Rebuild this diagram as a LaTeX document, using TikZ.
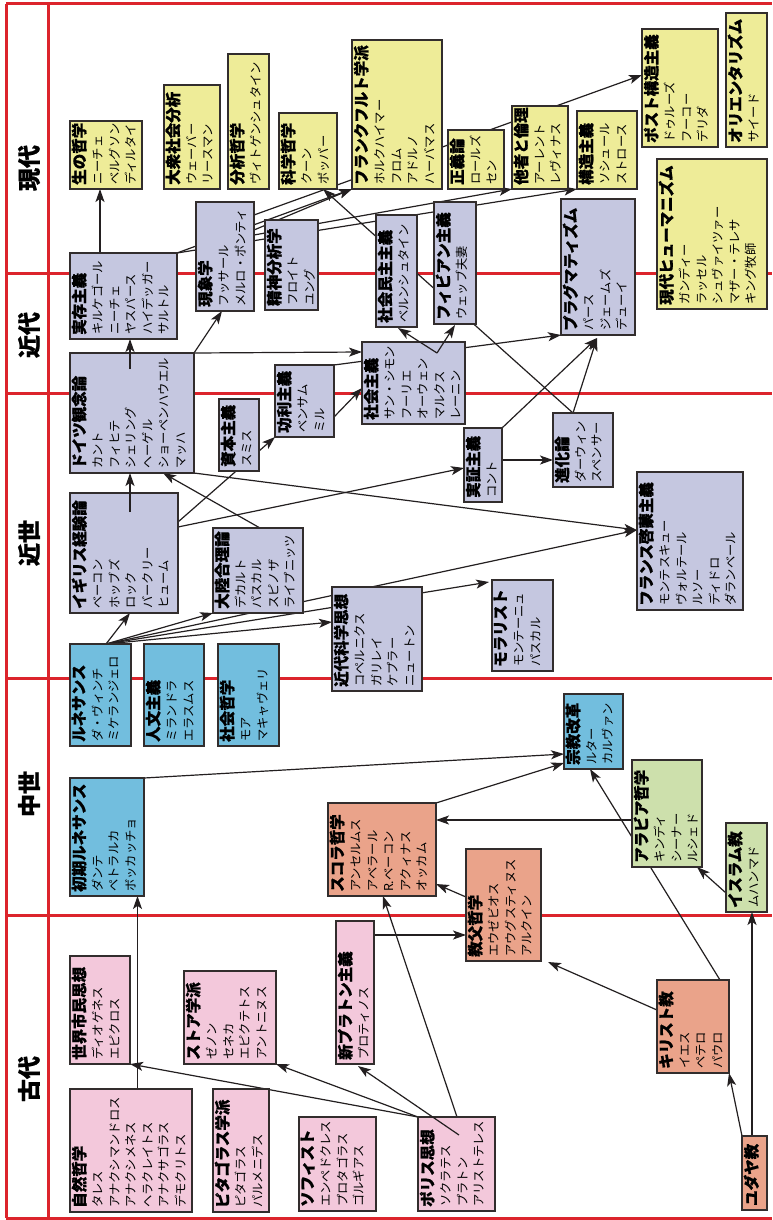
\documentclass[tikz,border=0pt]{standalone}
\usepackage{fontspec}
\setmainfont{Noto Sans CJK JP}[BoldFeatures={FakeBold=0.9}]
\usetikzlibrary{arrows.meta,fit}
\pgfdeclarelayer{bg}
\pgfsetlayers{bg,main}

\definecolor{frame}{RGB}{220,36,44}
\definecolor{ink}{RGB}{35,31,32}
\definecolor{edge}{RGB}{50,45,45}
\definecolor{cyel}{RGB}{238,236,152}
\definecolor{clav}{RGB}{197,199,224}
\definecolor{cblu}{RGB}{114,190,222}
\definecolor{csal}{RGB}{234,163,138}
\definecolor{cgrn}{RGB}{205,224,172}
\definecolor{cpnk}{RGB}{243,200,219}

\tikzset{
  box/.style={draw=edge, line width=1.4pt, inner sep=0pt, outer sep=0pt},
  btext/.style={rotate=90, anchor=north west, align=left, inner sep=0pt,
    font=\fontsize{12.3}{16.5}\selectfont},
  arr/.style={draw=ink, line width=1.2pt, -{Stealth[length=13pt,width=9pt,inset=3.2pt]}},
  redline/.style={draw=frame, line width=3pt},
  era/.style={rotate=90, font=\bfseries\fontsize{23}{23}\selectfont},
}

% box with a bold school name and its thinkers, text running bottom to top
\newcommand{\ideabox}[8]{%
  \node[box, fill=#6, fit={(#2,#3) (#4,#5)}] (#1) {};
  \node[btext] (#1-t) at ([xshift=1.5pt,yshift=4pt]#1.south west)
    {{\bfseries\fontsize{15.5}{16.5}\selectfont #7}\if\relax\detokenize{#8}\relax\else\\[1pt]#8\fi};
}

\begin{document}
\begin{tikzpicture}[x=1pt,y=-1pt]
\useasboundingbox (0,0) rectangle (772,1220);

% ---- contemporary
\ideabox{seino}{70}{121}{142}{189}{cyel}{生の哲学}{ニーチェ\\ベルグソン\\ディルタイ}
\ideabox{taishu}{164}{85}{220}{189}{cyel}{大衆社会分析}{ウェーバー\\リースマン}
\ideabox{bunseki}{228}{54}{269}{189}{cyel}{分析哲学}{ヴィトゲンシュタイン}
\ideabox{kagaku}{279}{113}{337}{189}{cyel}{科学哲学}{クーン\\ポッパー}
\ideabox{frank}{352}{40}{442}{189}{cyel}{フランクフルト学派}{ホルクハイマー\\フロム\\アドルノ\\ハーバマス}
\ideabox{seigi}{448}{130}{504}{189}{cyel}{正義論}{ロールズ\\セン}
\ideabox{tasha}{512}{106}{568}{189}{cyel}{他者と倫理}{アーレント\\レヴィナス}
\ideabox{kozo}{577}{111}{637}{189}{cyel}{構造主義}{ソシュール\\ストロース}
\ideabox{postk}{642}{29}{718}{147}{cyel}{ポスト構造主義}{ドゥルーズ\\フーコー\\デリダ}
\ideabox{orient}{726}{13}{767}{147}{cyel}{オリエンタリズム}{サイード}
\ideabox{human}{657}{159}{767}{309}{cyel}{現代ヒューマニズム}{ガンディー\\ラッセル\\シュヴァイツァー\\マザー・テレサ\\キング牧師}

% ---- modern
\ideabox{pragma}{561}{199}{635}{335}{clav}{プラグマティズム}{パース\\ジェームズ\\デューイ}
\ideabox{fabian}{434}{202}{476}{324}{clav}{フィビアン主義}{ウェッブ夫妻}
\ideabox{shamin}{376}{215}{417}{327}{clav}{社会民主主義}{ベルンシュタイン}
\ideabox{seishin}{265}{220}{318}{310}{clav}{精神分析学}{フロイト\\ユング}
\ideabox{genshou}{196}{202}{254}{311}{clav}{現象学}{フッサール\\メルロ・ポンティ}
\ideabox{jitsuzon}{70}{253}{177}{339}{clav}{実存主義}{キルケゴール\\ニーチェ\\ヤスパース\\ハイデッガー\\サルトル}
\ideabox{german}{70}{353}{194}{473}{clav}{ドイツ観念論}{カント\\フィヒテ\\シェリング\\ヘーゲル\\ショーペンハウエル\\マッハ}
\ideabox{shihon}{219}{399}{259}{471}{clav}{資本主義}{スミス}
\ideabox{kouri}{275}{365}{334}{437}{clav}{功利主義}{ベンサム\\ミル}
\ideabox{shakai}{362}{342}{465}{424}{clav}{社会主義}{サン・シモン\\フーリエ\\オーウェン\\マルクス\\レーニン}
\ideabox{jissho}{464}{428}{502}{502}{clav}{実証主義}{コント}
\ideabox{shinka}{553}{413}{613}{487}{clav}{進化論}{ダーウィン\\スペンサー}
\ideabox{french}{637}{472}{743}{610}{clav}{フランス啓蒙主義}{モンテスキュー\\ヴォルテール\\ルソー\\ディドロ\\ダランベール}
\ideabox{british}{70}{493}{178}{613}{clav}{イギリス経験論}{ベーコン\\ホッブズ\\ロック\\バークリー\\ヒューム}
\ideabox{tairiku}{213}{528}{303}{613}{clav}{大陸合理論}{デカルト\\パスカル\\スピノザ\\ライプニッツ}
\ideabox{kindai}{332}{587}{422}{691}{clav}{近代科学思想}{コペルニクス\\ガリレイ\\ケプラー\\ニュートン}
\ideabox{moral}{492}{580}{553}{671}{clav}{モラリスト}{モンテーニュ\\パスカル}

% ---- renaissance and medieval
\ideabox{renai}{70}{644}{131}{746}{cblu}{ルネサンス}{ダ・ヴィンチ\\ミケランジェロ}
\ideabox{jinbun}{144}{644}{204}{746}{cblu}{人文主義}{ミランドラ\\エラスムス}
\ideabox{shatetsu}{218}{644}{279}{746}{cblu}{社会哲学}{モア\\マキャヴェリ}
\ideabox{shoki}{70}{778}{144}{896}{cblu}{初期ルネサンス}{ダンテ\\ペトラルカ\\ボッカッチョ}
\ideabox{shukyo}{564}{694}{623}{769}{cblu}{宗教改革}{ルター\\カルヴァン}
\ideabox{scola}{328}{803}{436}{896}{csal}{スコラ哲学}{アンセルムス\\アベラール\\R.ベーコン\\アクィナス\\オッカム}
\ideabox{kyofu}{466}{849}{541}{961}{csal}{教父哲学}{エウゼビオス\\アウグスティヌス\\アルクイン}
\ideabox{arabia}{632}{760}{702}{867}{cgrn}{アラビア哲学}{キンディ\\シーナー\\ルシェド}
\ideabox{islam}{726}{823}{767}{912}{cgrn}{イスラム教}{ムハンマド}

% ---- ancient
\ideabox{sekai}{70}{956}{130}{1064}{cpnk}{世界市民思想}{ディオゲネス\\エピクロス}
\ideabox{stoa}{184}{971}{276}{1064}{cpnk}{ストア学派}{ゼノン\\セネカ\\エピクテトス\\アントニヌス}
\ideabox{shinpl}{336}{921}{374}{1064}{cpnk}{新プラトン主義}{プロティノス}
\ideabox{shizen}{70}{1089}{192}{1212}{cpnk}{自然哲学}{タレス\\アナクシマンドロス\\アナクシメネス\\ヘラクレイトス\\アナクサゴラス\\デモクリトス}
\ideabox{pythag}{213}{1089}{269}{1212}{cpnk}{ピタゴラス学派}{ピタゴラス\\パルメニデス}
\ideabox{sophist}{299}{1117}{376}{1211}{cpnk}{ソフィスト}{エンペドクレス\\プロタゴラス\\ゴルギアス}
\ideabox{polis}{418}{1117}{495}{1211}{cpnk}{ポリス思想}{ソクラテス\\プラトン\\アリストテレス}
\ideabox{christ}{657}{980}{729}{1073}{csal}{キリスト教}{イエス\\ペテロ\\パウロ}
\ideabox{judaism}{742}{1136}{767}{1210}{csal}{ユダヤ教}{}

% ---- era labels
\node[era] (e1) at (29,168) {現代};
\node[era] (e2) at (29,335) {近代};
\node[era] (e3) at (29,543) {近世};
\node[era] (e4) at (29,794) {中世};
\node[era] (e5) at (29,1079) {古代};

\begin{pgfonlayer}{bg}
\fill[white] (0,0) rectangle (772,1220);
% period grid
\draw[redline] (6,4) -- (772,4);
\draw[redline] (6,1218) -- (772,1218);
\draw[redline] (6,4) -- (6,1218);
\draw[redline] (48,4) -- (48,1218);
\draw[redline] (6,273) -- (772,273);
\draw[redline] (6,393) -- (772,393);
\draw[redline] (6,678) -- (772,678);
\draw[redline] (6,915) -- (772,915);

% ancient and medieval links
\draw[arr] ([xshift=67.5pt]shizen.north west) -- ([xshift=67.5pt]shoki.south west);
\draw[arr] (polis.north west) -- (sekai.south east);
\draw[arr] (polis.north west) -- (stoa.south east);
\draw[arr] ([xshift=39pt]polis.north west) -- ([xshift=55pt]scola.south west);
\coordinate (np) at ([yshift=-14pt]shinpl.north east);
\draw[arr] (np) -- (np -| kyofu.west);
\draw[arr] ([yshift=-30pt]christ.north west) -- ([xshift=7pt,yshift=-1pt]kyofu.south east);
\draw[arr] ([xshift=63pt]christ.north west) -- ([xshift=26pt]shukyo.south west);
\draw[arr] (judaism.north west) -- (christ.south east);
\draw[arr] ([xshift=10pt]judaism.north west) -- ([xshift=26pt]islam.south west);
\draw[arr] ([yshift=-70pt]islam.north west) -- ([xshift=-5pt]arabia.south east);
\coordinate (ar) at ([yshift=-60pt]arabia.north west);
\draw[arr] (ar) -- (ar -| scola.east);
\draw[arr] ([yshift=-48pt]kyofu.north west) -- ([yshift=-81pt]scola.north east);
\draw[arr] (scola.north east) -- ([yshift=-69pt]shukyo.north west);
\draw[arr] (shoki.north east) -- ([yshift=-60pt]shukyo.north west);

% renaissance fan
\coordinate (rs) at ([xshift=36pt]renai.north west);
\draw[arr] (rs) -- ([xshift=60pt]british.south west);
\draw[arr] (rs) -- (tairiku.south west);
\draw[arr] (rs) -- ([yshift=-35pt]kindai.north west);
\draw[arr] (rs) -- ([xshift=-3pt,yshift=-2pt]moral.north west);
\draw[arr] (rs) -- ([yshift=-58pt]french.north west);

% early modern and modern links
\draw[arr] (german.north east) -- ([xshift=26pt]genshou.south west);
\draw[arr] (german.north east) -- ([yshift=-10pt]shakai.north west);
\draw[arr] ([xshift=47pt]tairiku.north west) -- ([xshift=93pt]german.south west);
\draw[arr] (german.south east) -- ([yshift=-58pt]french.north west);
\draw[arr] ([yshift=-34pt]british.north east) -- ([yshift=-40pt]jissho.north west);
\draw[arr] ([yshift=-29pt]british.north east) -- (kouri.south west);
\draw[arr] ([yshift=-52pt]kouri.north east) -- ([yshift=-46pt]shakai.north west);
\draw[arr] (kouri.north east) -- ([yshift=-136pt]pragma.north west);
\coordinate (js) at ([yshift=-32pt]jissho.north east);
\draw[arr] (js) -- (js -| shinka.west);
\coordinate (pg) at ([xshift=36pt,yshift=-3pt]pragma.south west);
\draw[arr] (jissho.north east) -- (pg);
\draw[arr] ([xshift=20pt]shinka.north west) -- (pg);
\draw[arr] ([xshift=20pt]shinka.north west) -- ([xshift=44pt]kagaku.south west);
\draw[arr] ([xshift=30pt]jitsuzon.north west) -- ([xshift=30pt]seino.south west);

% contemporary links
\draw[arr] (jitsuzon.north east) -- (frank.south west);
\draw[arr] ([yshift=-28pt]genshou.north east) -- (frank.south west);
\draw[arr] (jitsuzon.north east) -- (kozo.south west);
\draw[arr] ([yshift=-13pt]genshou.north east) -- ([yshift=-46pt]postk.north west);
\draw[arr] ([yshift=-33pt]genshou.north east) -- (tasha.south west);
\end{pgfonlayer}

% links that start inside a box
\draw[arr] ([xshift=60pt,yshift=-19pt]british.north west) -- ([xshift=60pt]german.south west);
\draw[arr] ([xshift=60pt,yshift=-16pt]german.north west) -- ([xshift=60pt]jitsuzon.south west);
\coordinate (sk) at ([xshift=75pt,yshift=-11pt]shakai.north west);
\draw[arr] (sk) -- ([xshift=22pt,yshift=-1pt]shamin.south west);
\draw[arr] (sk) -- ([xshift=21pt,yshift=-1pt]fabian.south west);
\draw[arr] ([xshift=41pt,yshift=-18pt]polis.north west) -- ([xshift=22pt,yshift=-2pt]shinpl.south west);
\end{tikzpicture}
\end{document}
